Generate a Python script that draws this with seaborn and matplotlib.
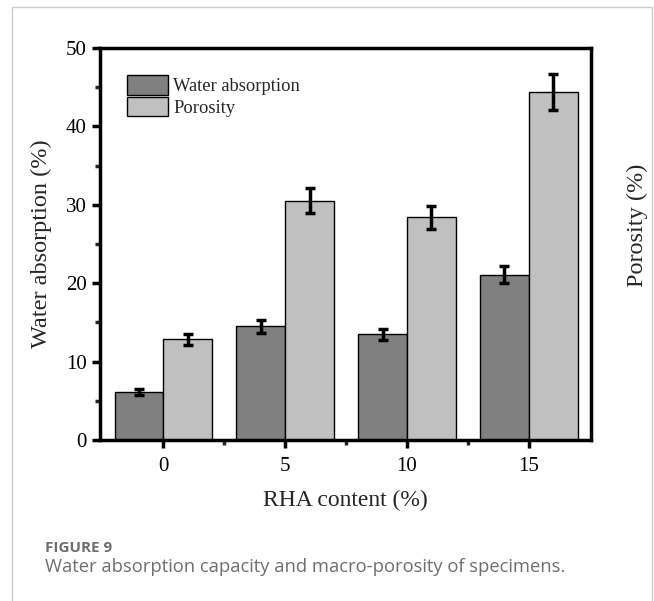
import matplotlib
matplotlib.use("Agg")
import matplotlib.pyplot as plt
import seaborn as sns
import pandas as pd
import numpy as np
from matplotlib.patches import Rectangle
from matplotlib.ticker import MultipleLocator, FixedLocator

# ---- data ----
categories = ["0", "5", "10", "15"]
water_absorption = [6.1, 14.5, 13.5, 21.1]
water_err = [0.35, 0.8, 0.7, 1.1]
porosity = [12.85, 30.5, 28.4, 44.4]
porosity_err = [0.7, 1.6, 1.5, 2.3]
series_names = ["Water absorption", "Porosity"]

df = pd.DataFrame({
    "RHA": categories * 2,
    "value": water_absorption + porosity,
    "series": [series_names[0]] * 4 + [series_names[1]] * 4,
})

sns.set_style("ticks")
plt.rcParams["font.family"] = ["Liberation Serif", "DejaVu Serif"]

fig = plt.figure(figsize=(6.54, 6.01), dpi=100)
ax = fig.add_axes([100 / 654, 1 - 440 / 601, 491 / 654, 392 / 601])

sns.barplot(data=df, x="RHA", y="value", hue="series", order=categories,
            hue_order=series_names, palette=["#808080", "#c0c0c0"],
            width=0.8, errorbar=None, edgecolor="black", linewidth=1.0,
            saturation=1, ax=ax)

# error bars, positioned from the drawn bars
errs = {series_names[0]: water_err, series_names[1]: porosity_err}
vals = {series_names[0]: water_absorption, series_names[1]: porosity}
for cont, name in zip(ax.containers, series_names):
    xs = [p.get_x() + p.get_width() / 2 for p in cont.patches]
    ax.errorbar(xs, vals[name], yerr=errs[name], fmt="none", ecolor="black",
                elinewidth=2.5, capsize=3.5, capthick=2.5, zorder=5)

ax.set_xlim(-0.52, 3.51)
ax.set_ylim(0, 50)
ax.yaxis.set_major_locator(MultipleLocator(10))
ax.yaxis.set_minor_locator(MultipleLocator(5))
ax.xaxis.set_minor_locator(FixedLocator([0.5, 1.5, 2.5]))

for s in ax.spines.values():
    s.set_linewidth(2.5)
    s.set_color("black")
    s.set_visible(True)

ax.tick_params(axis="both", which="major", length=6, width=2.5,
               labelsize=15, colors="black", direction="out")
ax.tick_params(axis="both", which="minor", length=3.5, width=2.5,
               direction="out")
ax.tick_params(axis="x", which="major", pad=6)

ax.set_xlabel("RHA content (%)", fontsize=17, labelpad=10)
ax.set_ylabel("Water absorption (%)", fontsize=17.5, labelpad=10)

ax2 = ax.twinx()
ax2.set_ylim(0, 50)
ax2.set_yticks([])
ax2.set_ylabel("Porosity (%)", fontsize=17.5)
ax2.yaxis.set_label_coords(1.073, 0.548)
for s in ax2.spines.values():
    s.set_visible(False)

leg = ax.legend(loc="upper left", bbox_to_anchor=(0.055, 0.93),
                frameon=False, fontsize=13.3, handlelength=2.2,
                handleheight=1.25, handletextpad=0.3, labelspacing=0.08,
                borderaxespad=0, borderpad=0)

# outer figure frame
fig.add_artist(Rectangle((12 / 654, -0.05), (652 - 12) / 654, 1.05 - 7 / 601,
                         transform=fig.transFigure, fill=False,
                         edgecolor="#cccccc", linewidth=1.0))

cap_font = ["Open Sans", "DejaVu Sans"]
fig.text(45 / 654, 1 - 548 / 601, "FIGURE 9", fontsize=11, color="#6e6e6e",
         fontweight="bold", family=cap_font, va="center", ha="left")
fig.text(45 / 654, 1 - 567 / 601,
         "Water absorption capacity and macro-porosity of specimens.",
         fontsize=13.2, color="#6e6e6e", family=cap_font, va="center", ha="left")

fig.savefig("out.png", dpi=100)
